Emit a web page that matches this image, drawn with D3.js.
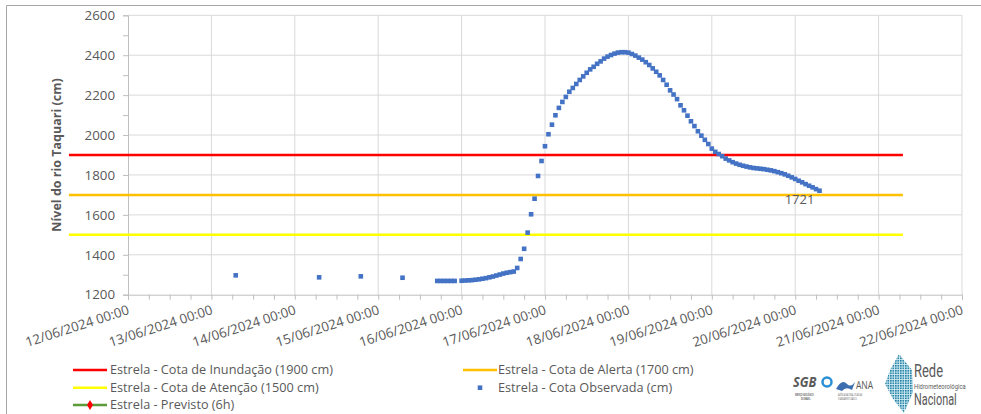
<!DOCTYPE html>
<html>
<head>
<meta charset="utf-8">
<script src="https://cdn.jsdelivr.net/npm/d3@7"></script>
<style>
  body { margin: 0; background: #fff; }
  text { font-family: "Open Sans", sans-serif; fill: #595959; }
</style>
</head>
<body>
<div id="chart"></div>
<script>
// Cotas de referência (cm)
const thresholdNames = ['Estrela - Cota de Inundação (1900 cm)', 'Estrela - Cota de Alerta (1700 cm)', 'Estrela - Cota de Atenção (1500 cm)'];
const thresholdValues = [1900, 1700, 1500];
const thresholdColors = ['#ff0000', '#ffc000', '#ffff00'];
const thresholdSpan = ['2024-06-11T07:00', '2024-06-21T07:00'];

// Cota observada (cm), leituras horárias
const obsTimes = [
	'2024-06-13T07:00', '2024-06-14T07:00', '2024-06-14T19:00', '2024-06-15T07:00',
	'2024-06-15T17:00', '2024-06-15T18:00', '2024-06-15T19:00', '2024-06-15T20:00', '2024-06-15T21:00', '2024-06-15T22:00',
	'2024-06-16T00:00', '2024-06-16T01:00', '2024-06-16T02:00', '2024-06-16T03:00', '2024-06-16T04:00', '2024-06-16T05:00',
	'2024-06-16T06:00', '2024-06-16T07:00', '2024-06-16T08:00', '2024-06-16T09:00', '2024-06-16T10:00', '2024-06-16T11:00',
	'2024-06-16T12:00', '2024-06-16T13:00', '2024-06-16T14:00', '2024-06-16T15:00', '2024-06-16T16:00', '2024-06-16T17:00',
	'2024-06-16T18:00', '2024-06-16T19:00', '2024-06-16T20:00', '2024-06-16T21:00', '2024-06-16T22:00', '2024-06-16T23:00',
	'2024-06-17T00:00', '2024-06-17T01:00', '2024-06-17T02:00', '2024-06-17T03:00', '2024-06-17T04:00', '2024-06-17T05:00',
	'2024-06-17T06:00', '2024-06-17T07:00', '2024-06-17T08:00', '2024-06-17T09:00', '2024-06-17T10:00', '2024-06-17T11:00',
	'2024-06-17T12:00', '2024-06-17T13:00', '2024-06-17T14:00', '2024-06-17T15:00', '2024-06-17T16:00', '2024-06-17T17:00',
	'2024-06-17T18:00', '2024-06-17T19:00', '2024-06-17T20:00', '2024-06-17T21:00', '2024-06-17T22:00', '2024-06-17T23:00',
	'2024-06-18T00:00', '2024-06-18T01:00', '2024-06-18T02:00', '2024-06-18T03:00', '2024-06-18T04:00', '2024-06-18T05:00',
	'2024-06-18T06:00', '2024-06-18T07:00', '2024-06-18T08:00', '2024-06-18T09:00', '2024-06-18T10:00', '2024-06-18T11:00',
	'2024-06-18T12:00', '2024-06-18T13:00', '2024-06-18T14:00', '2024-06-18T15:00', '2024-06-18T16:00', '2024-06-18T17:00',
	'2024-06-18T18:00', '2024-06-18T19:00', '2024-06-18T20:00', '2024-06-18T21:00', '2024-06-18T22:00', '2024-06-18T23:00',
	'2024-06-19T00:00', '2024-06-19T01:00', '2024-06-19T02:00', '2024-06-19T03:00', '2024-06-19T04:00', '2024-06-19T05:00',
	'2024-06-19T06:00', '2024-06-19T07:00', '2024-06-19T08:00', '2024-06-19T09:00', '2024-06-19T10:00', '2024-06-19T11:00',
	'2024-06-19T12:00', '2024-06-19T13:00', '2024-06-19T14:00', '2024-06-19T15:00', '2024-06-19T16:00', '2024-06-19T17:00',
	'2024-06-19T18:00', '2024-06-19T19:00', '2024-06-19T20:00', '2024-06-19T21:00', '2024-06-19T22:00', '2024-06-19T23:00',
	'2024-06-20T00:00', '2024-06-20T01:00', '2024-06-20T02:00', '2024-06-20T03:00', '2024-06-20T04:00', '2024-06-20T05:00',
	'2024-06-20T06:00', '2024-06-20T07:00'
];
const obsValues = [
	1297, 1287, 1292, 1285,
	1269, 1269, 1269, 1269, 1269, 1269,
	1270, 1271, 1272, 1273, 1275, 1277, 1280, 1283, 1287, 1291, 1296, 1301,
	1306, 1310, 1313, 1316, 1334, 1379, 1430, 1511, 1603, 1681, 1795, 1870,
	1944, 2004, 2052, 2099, 2136, 2166, 2191, 2217, 2236, 2256, 2276, 2294,
	2312, 2329, 2342, 2357, 2369, 2383, 2393, 2401, 2408, 2413, 2415, 2415,
	2413, 2406, 2398, 2388, 2378, 2365, 2351, 2334, 2317, 2299, 2276, 2252,
	2224, 2203, 2180, 2149, 2124, 2097, 2069, 2045, 2019, 1997, 1976, 1955,
	1932, 1916, 1905, 1894, 1882, 1873, 1864, 1857, 1851, 1846, 1842, 1838,
	1835, 1833, 1831, 1829, 1826, 1823, 1819, 1814, 1809, 1803, 1796, 1788,
	1780, 1771, 1763, 1754, 1746, 1738, 1729, 1721
];

// Eixos
const xDomain = ['2024-06-12T00:00', '2024-06-22T00:00'];
const yTicks = [1200, 1400, 1600, 1800, 2000, 2200, 2400, 2600];

const width = 981, height = 414;
const plot = { left: 128, right: 962, top: 15.3, bottom: 294.7 };
const parse = d3.timeParse('%Y-%m-%dT%H:%M');
const fmt = d3.timeFormat('%d/%m/%Y %H:%M');

const svg = d3.select('#chart').append('svg')
	.attr('width', width)
	.attr('height', height);

const x = d3.scaleTime().domain(xDomain.map(parse)).range([plot.left, plot.right]);
const y = d3.scaleLinear().domain([1200, 2600]).range([plot.bottom, plot.top]);

// moldura do gráfico
svg.append('path')
	.attr('d', 'M6.5,' + height + 'V5.5H' + width)
	.attr('fill', 'none')
	.attr('stroke', '#a6a6a6');

// grade
const days = d3.timeDay.range(x.domain()[0], d3.timeHour.offset(x.domain()[1], 1));
svg.append('g').selectAll('line').data(days.slice(1)).enter().append('line')
	.attr('x1', (d) => x(d)).attr('x2', (d) => x(d))
	.attr('y1', plot.top).attr('y2', plot.bottom)
	.attr('stroke', '#d9d9d9');
svg.append('g').selectAll('line').data(yTicks.slice(1)).enter().append('line')
	.attr('x1', plot.left).attr('x2', plot.right)
	.attr('y1', (d) => y(d)).attr('y2', (d) => y(d))
	.attr('stroke', '#d9d9d9');

// eixo Y
const yAxis = svg.append('g')
	.attr('transform', 'translate(' + plot.left + ',0)')
	.call(d3.axisLeft(y).tickValues(d3.range(1200, 2601, 100)).tickSize(5).tickFormat((d) => (d % 200 === 0 ? d : '')));
yAxis.select('.domain').attr('stroke', '#bfbfbf');
yAxis.selectAll('.tick line').attr('stroke', '#bfbfbf');
yAxis.selectAll('.tick text')
	.attr('x', -13)
	.style('font-size', '13.3px')
	.style('font-family', '"Open Sans", sans-serif')
	.attr('fill', '#595959');

// eixo X
const xAxis = svg.append('g')
	.attr('transform', 'translate(0,' + plot.bottom + ')')
	.call(d3.axisBottom(x).ticks(d3.timeHour.every(6)).tickSize(5).tickFormat(''));
xAxis.select('.domain').attr('stroke', '#bfbfbf');
xAxis.selectAll('.tick line').attr('stroke', '#bfbfbf');

svg.append('g').selectAll('text').data(days).enter().append('text')
	.attr('transform', (d) => 'translate(' + (x(d) + 2) + ',' + (plot.bottom + 19) + ') rotate(-18)')
	.attr('text-anchor', 'end')
	.style('font-size', '13.3px')
	.text((d) => fmt(d));

// título do eixo Y
svg.append('text')
	.attr('transform', 'translate(61,' + (plot.top + plot.bottom) / 2 + ') rotate(-90)')
	.attr('text-anchor', 'middle')
	.style('font-size', '12.5px')
	.style('font-weight', 'bold')
	.attr('fill', '#000')
	.text('Nível do rio Taquari (cm)');

// cotas de referência
const span = thresholdSpan.map(parse);
svg.append('g').selectAll('line').data(thresholdValues).enter().append('line')
	.attr('x1', x(span[0])).attr('x2', x(span[1]))
	.attr('y1', (d) => y(d)).attr('y2', (d) => y(d))
	.attr('stroke', (d, i) => thresholdColors[i])
	.attr('stroke-width', 2.5);

// cota observada
const obs = obsTimes.map((t, i) => ({ t: parse(t), v: obsValues[i] }));
const m = 4.6;
svg.append('g').selectAll('rect').data(obs).enter().append('rect')
	.attr('x', (d) => x(d.t) - m / 2)
	.attr('y', (d) => y(d.v) - m / 2)
	.attr('width', m)
	.attr('height', m)
	.attr('fill', '#4472c4');

// rótulo do último valor
const last = obs[obs.length - 1];
svg.append('text')
	.attr('x', x(last.t) - 20)
	.attr('y', y(last.v) + 13)
	.attr('text-anchor', 'middle')
	.style('font-size', '13px')
	.attr('fill', '#000')
	.text(last.v);

// legenda
const legend = svg.append('g').style('font-size', '12.7px');
const rowY = [370, 387.7, 405];
function legendLine(x0, yy, color) {
	legend.append('line')
		.attr('x1', x0).attr('x2', x0 + 34)
		.attr('y1', yy).attr('y2', yy)
		.attr('stroke', color).attr('stroke-width', 2.5);
}
function legendText(x0, yy, s) {
	legend.append('text').attr('x', x0).attr('y', yy).attr('dy', '0.35em').text(s);
}
legendLine(73, rowY[0], thresholdColors[0]);
legendText(110, rowY[0], thresholdNames[0]);
legendLine(463, rowY[0], thresholdColors[1]);
legendText(498, rowY[0], thresholdNames[1]);
legendLine(73, rowY[1], thresholdColors[2]);
legendText(110, rowY[1], thresholdNames[2]);
legend.append('rect')
	.attr('x', 480 - m / 2).attr('y', rowY[1] - m / 2)
	.attr('width', m).attr('height', m)
	.attr('fill', '#4472c4');
legendText(498, rowY[1], 'Estrela - Cota Observada (cm)');
legendLine(73, rowY[2], '#5b9b3a');
legend.append('path')
	.attr('d', d3.symbol(d3.symbolDiamond, 30)())
	.attr('transform', 'translate(90,' + rowY[2] + ')')
	.attr('fill', '#ff0000');
legendText(110, rowY[2], 'Estrela - Previsto (6h)');

// logos (texto comprimido na horizontal)
const logo = svg.append('g');
function logoText(x0, y0, size, sx, color, s, weight) {
	return logo.append('text')
		.attr('transform', 'translate(' + x0 + ',' + y0 + ') scale(' + sx + ',1)')
		.style('font-size', size + 'px')
		.style('font-weight', weight || 'normal')
		.attr('fill', color)
		.text(s);
}
logoText(793, 387, 15, 0.85, '#1c6fb8', 'SGB', 'bold').style('font-style', 'italic');
logo.append('circle').attr('cx', 827).attr('cy', 382).attr('r', 4.5)
	.attr('fill', 'none').attr('stroke', '#2b8fd6').attr('stroke-width', 2.5);
logoText(795, 396, 3, 0.6, '#1c6fb8', 'SERVIÇO GEOLÓGICO', 'bold');
logoText(801, 400, 3, 0.6, '#1c6fb8', 'DO BRASIL', 'bold');
logo.append('path')
	.attr('d', 'M836,389 Q842,378 847,384 Q851,388 855,382 L852,390 Q846,386 842,391 Z')
	.attr('fill', '#3d6fb0');
logoText(856, 389, 10, 0.85, '#5a6f8f', 'ANA');
logoText(838, 396, 2.8, 0.6, '#5a6f8f', 'AGÊNCIA NACIONAL DE ÁGUAS');
logoText(838, 400, 2.8, 0.6, '#5a6f8f', 'E SANEAMENTO BÁSICO');

const pat = svg.append('defs').append('pattern')
	.attr('id', 'dots').attr('width', 2.5).attr('height', 2.5)
	.attr('patternUnits', 'userSpaceOnUse');
pat.append('rect').attr('width', 2.5).attr('height', 2.5).attr('fill', '#cfe9f1');
pat.append('rect').attr('width', 1.6).attr('height', 1.6).attr('fill', '#1f7fa3');
logo.append('path')
	.attr('d', 'M899,354 L912,370 L913,392 L904,413 L893,399 L885,384 L890,370 Z')
	.attr('fill', 'url(#dots)');
logoText(914, 377, 18, 0.72, '#1b6d8c', 'Rede').style('font-family', 'Roboto, sans-serif');
logoText(914, 388.8, 6.5, 0.9, '#2aa4c8', 'Hidrometeorológica').style('font-family', 'Roboto, sans-serif');
logoText(914, 405, 16, 0.68, '#1b6d8c', 'Nacional').style('font-family', 'Roboto, sans-serif');
</script>
</body>
</html>
